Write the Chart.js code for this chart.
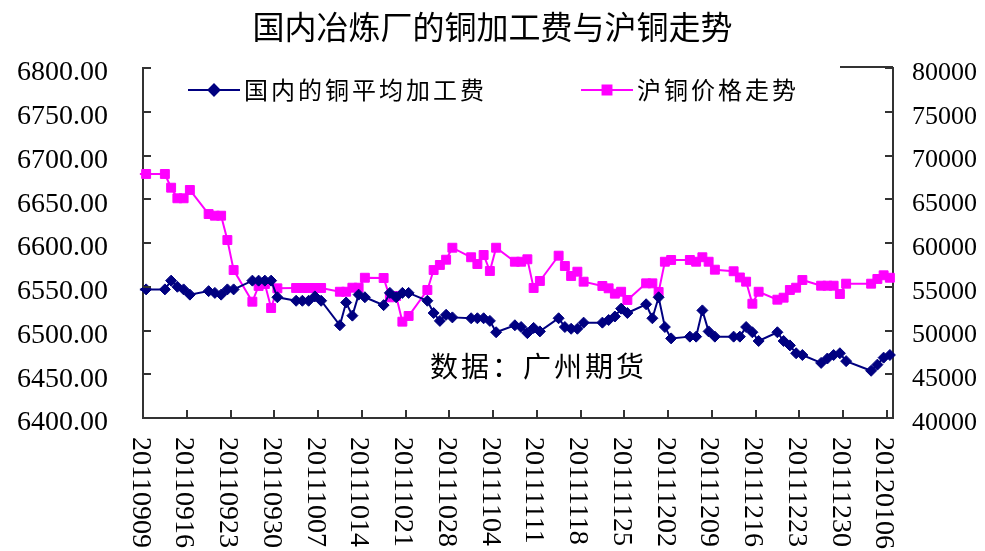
<!DOCTYPE html>
<html>
<head>
<meta charset="utf-8">
<script src="https://cdn.jsdelivr.net/npm/chart.js@4.4.0/dist/chart.umd.min.js"></script>
<style>
  html, body { margin: 0; padding: 0; background: #fff; }
  canvas { display: block; }
</style>
</head>
<body>
<canvas id="copperChart" width="985" height="551"></canvas>
<script>
// trading dates (first one only shows as a short stub left of the axis)
const dates = [
  '20110908',
  '20110909', '20110912', '20110913', '20110914', '20110915', '20110916',
  '20110919', '20110920', '20110921', '20110922', '20110923',
  '20110926', '20110927', '20110928', '20110929', '20110930',
  '20111003', '20111004', '20111005', '20111006', '20111007',
  '20111010', '20111011', '20111012', '20111013', '20111014',
  '20111017', '20111018', '20111019', '20111020', '20111021',
  '20111024', '20111025', '20111026', '20111027', '20111028',
  '20111031', '20111101', '20111102', '20111103', '20111104',
  '20111107', '20111108', '20111109', '20111110', '20111111',
  '20111114', '20111115', '20111116', '20111117', '20111118',
  '20111121', '20111122', '20111123', '20111124', '20111125',
  '20111128', '20111129', '20111130', '20111201', '20111202',
  '20111205', '20111206', '20111207', '20111208', '20111209',
  '20111212', '20111213', '20111214', '20111215', '20111216',
  '20111219', '20111220', '20111221', '20111222', '20111223',
  '20111226', '20111227', '20111228', '20111229', '20111230',
  '20120103', '20120104', '20120105', '20120106'
];

// 国内的铜平均加工费 (left axis)
const tcFee = [
  6547,
  6547, 6547, 6557, 6550, 6547, 6541,
  6545, 6543, 6541, 6547, 6547,
  6557, 6557, 6557, 6557, 6538,
  6534, 6534, 6534, 6539, 6534,
  6506, 6532, 6517, 6541, 6538,
  6529, 6543, 6538, 6543, 6543,
  6534, 6520, 6511, 6518, 6515,
  6514, 6514, 6514, 6511, 6498,
  6506, 6504, 6497, 6503, 6499,
  6514, 6504, 6502, 6502, 6509,
  6509, 6512, 6516, 6525, 6520,
  6530, 6514, 6538, 6504, 6491,
  6493, 6493, 6523, 6499, 6493,
  6493, 6493, 6504, 6498, 6488,
  6498, 6488, 6483, 6474, 6472,
  6463, 6468, 6472, 6474, 6465,
  6454, 6461, 6469, 6472
];

// 沪铜价格走势 (right axis)
const cuPrice = [
  67890,
  67890, 67890, 66320, 65110, 65110, 66060,
  63310, 63120, 63120, 60340, 56910,
  53290, 55090, 55310, 52570, 54820,
  54860, 54860, 54860, 54860, 54860,
  54430, 54430, 54890, 54890, 56030,
  56000, 53790, 53940, 51010, 51660,
  54630, 56910, 57490, 58090, 59460,
  58370, 57600, 58630, 56800, 59460,
  57860, 57860, 58140, 54860, 55660,
  58550, 57370, 56230, 56720, 55580,
  55090, 54820, 54210, 54430, 53490,
  55390, 55390, 54400, 57860, 58060,
  58060, 57860, 58370, 57860, 56950,
  56770, 56060, 55580, 53060, 54430,
  53520, 53750, 54630, 54890, 55770,
  55120, 55120, 55120, 54170, 55350,
  55350, 55890, 56310, 56030
];

const tickLabels = [
  '20110909', '20110916', '20110923', '20110930', '20111007', '20111014',
  '20111021', '20111028', '20111104', '20111111', '20111118', '20111125',
  '20111202', '20111209', '20111216', '20111223', '20111230', '20120106'
];

const seriesNames = ['国内的铜平均加工费', '沪铜价格走势'];

const startDay = Date.UTC(2011, 8, 9);
function dayIndex(s) {
  const t = Date.UTC(+s.slice(0, 4), +s.slice(4, 6) - 1, +s.slice(6, 8));
  return Math.round((t - startDay) / 86400000);
}

// date axis "between tick marks": each point sits in the middle of its day
const feePoints = dates.map((d, i) => ({ x: dayIndex(d) + 0.5, y: tcFee[i] }));
const pricePoints = dates.map((d, i) => ({ x: dayIndex(d) + 0.5, y: cuPrice[i] }));

const NAVY = '#000080';
const PINK = '#FF00FF';
const AXIS = '#333333';
const LABEL_FONT = '"Liberation Serif", "Times New Roman", serif';
const CJK_FONT = '"Noto Sans CJK SC", "Noto Sans", sans-serif';

const decorPlugin = {
  id: 'decor',
  afterDraw(chart) {
    const ctx = chart.ctx;
    const area = chart.chartArea;
    const xs = chart.scales.x, yl = chart.scales.y, yr = chart.scales.y1;

    ctx.save();
    // tick marks pointing into the plot
    ctx.strokeStyle = AXIS;
    ctx.lineWidth = 2;
    ctx.beginPath();
    yl.ticks.forEach(t => {
      const py = Math.round(yl.getPixelForValue(t.value));
      ctx.moveTo(area.left, py); ctx.lineTo(area.left + 8, py);
    });
    yr.ticks.forEach(t => {
      const py = Math.round(yr.getPixelForValue(t.value));
      ctx.moveTo(area.right, py); ctx.lineTo(area.right - 8, py);
    });
    tickLabels.forEach(l => {
      const px = Math.round(xs.getPixelForValue(dayIndex(l)));
      ctx.moveTo(px, area.bottom); ctx.lineTo(px, area.bottom - 8);
    });
    // visible piece of the plot frame right of the legend
    ctx.moveTo(840, area.top - 1); ctx.lineTo(area.right, area.top - 1);
    ctx.stroke();

    // vertical date labels, reading top to bottom
    ctx.fillStyle = '#000';
    ctx.font = '28px ' + LABEL_FONT;
    ctx.textAlign = 'left';
    ctx.textBaseline = 'middle';
    tickLabels.forEach(l => {
      const px = xs.getPixelForValue(dayIndex(l));
      ctx.save();
      ctx.translate(px - 3, area.bottom + 19);
      ctx.rotate(Math.PI / 2);
      ctx.fillText(l, 0, 0);
      ctx.restore();
    });

    // legend inside the top of the plot
    const legendY = 90;
    const items = [
      { x: 188, color: NAVY, style: 'rectRot', r: 5.5 },
      { x: 581, color: PINK, style: 'rect', r: 6.3 }
    ];
    ctx.font = '24px ' + CJK_FONT;
    ctx.letterSpacing = '3px';
    items.forEach((it, i) => {
      ctx.strokeStyle = it.color;
      ctx.fillStyle = it.color;
      ctx.lineWidth = 2;
      ctx.beginPath();
      ctx.moveTo(it.x, legendY); ctx.lineTo(it.x + 52, legendY);
      ctx.stroke();
      Chart.helpers.drawPoint(ctx, { pointStyle: it.style, rotation: 0, radius: it.r, borderWidth: 1 }, it.x + 26, legendY);
      ctx.fillStyle = '#000';
      ctx.fillText(seriesNames[i], it.x + 56, legendY);
    });

    // source note
    ctx.font = '28px ' + CJK_FONT;
    ctx.fillText('数据：广州期货', 430, 366);
    ctx.restore();
  }
};

new Chart(document.getElementById('copperChart'), {
  type: 'line',
  data: {
    datasets: [
      {
        label: seriesNames[0],
        data: feePoints,
        yAxisID: 'y',
        borderColor: NAVY,
        backgroundColor: NAVY,
        borderWidth: 2,
        pointStyle: 'rectRot',
        pointRadius: ctx => ctx.dataIndex === 0 ? 0 : 5.5,
        pointBorderWidth: 1,
        tension: 0,
        clip: false
      },
      {
        label: seriesNames[1],
        data: pricePoints,
        yAxisID: 'y1',
        borderColor: PINK,
        backgroundColor: PINK,
        borderWidth: 2,
        pointStyle: 'rect',
        pointRadius: ctx => ctx.dataIndex === 0 ? 0 : 6.3,
        pointBorderWidth: 1,
        tension: 0,
        clip: false
      }
    ]
  },
  options: {
    responsive: false,
    animation: false,
    devicePixelRatio: 1,
    layout: { padding: 0 },
    plugins: {
      legend: { display: false },
      tooltip: { enabled: false },
      title: {
        display: true,
        text: '国内冶炼厂的铜加工费与沪铜走势',
        color: '#000',
        font: { family: CJK_FONT, size: 32, weight: 'normal', lineHeight: 1.2 },
        padding: { top: 8, bottom: 21.6 }
      }
    },
    scales: {
      x: {
        type: 'linear',
        min: 0,
        max: 120,
        grid: { display: false, drawTicks: false },
        border: { display: true, color: AXIS, width: 2 },
        ticks: { display: false },
        afterFit(scale) { scale.height = 133; }
      },
      y: {
        position: 'left',
        min: 6400,
        max: 6800,
        grid: { display: false, drawTicks: false },
        border: { display: true, color: AXIS, width: 2 },
        ticks: {
          stepSize: 50,
          padding: 35,
          labelOffset: 5,
          color: '#000',
          font: { family: LABEL_FONT, size: 28 },
          callback: v => v.toFixed(2)
        },
        afterFit(scale) { scale.width = 143; }
      },
      y1: {
        position: 'right',
        min: 40000,
        max: 80000,
        grid: { display: false, drawTicks: false },
        border: { display: true, color: AXIS, width: 2 },
        ticks: {
          stepSize: 5000,
          padding: 19,
          labelOffset: 5,
          color: '#000',
          font: { family: LABEL_FONT, size: 26 },
          callback: v => String(v)
        },
        afterFit(scale) { scale.width = 92; }
      }
    }
  },
  plugins: [decorPlugin]
});
</script>
</body>
</html>
